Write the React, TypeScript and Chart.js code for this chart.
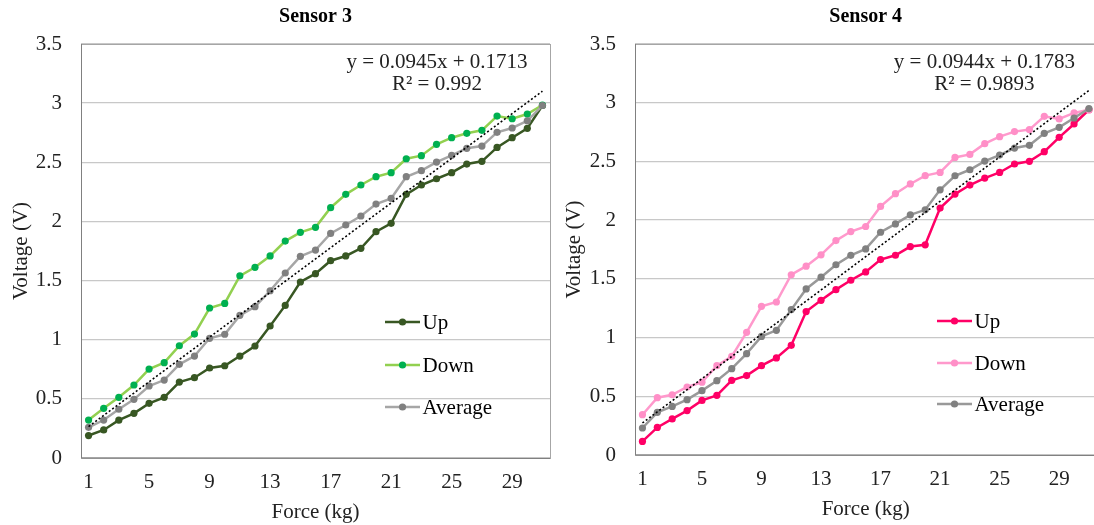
import React, { useEffect, useRef } from "react";
import { Chart, registerables } from "chart.js";

Chart.register(...registerables);

const forceLabels = Array.from({ length: 31 }, (_, i) => String(i + 1));

const s3Up = [0.19, 0.237, 0.32, 0.378, 0.462, 0.513, 0.642, 0.679, 0.761, 0.78, 0.862, 0.947, 1.116, 1.29, 1.488, 1.558, 1.668, 1.708, 1.773, 1.913, 1.984, 2.229, 2.308, 2.361, 2.412, 2.485, 2.508, 2.626, 2.708, 2.787, 2.98];
const s3Down = [0.321, 0.42, 0.513, 0.617, 0.752, 0.806, 0.949, 1.048, 1.268, 1.307, 1.54, 1.612, 1.708, 1.834, 1.908, 1.95, 2.116, 2.229, 2.308, 2.378, 2.412, 2.53, 2.556, 2.652, 2.708, 2.745, 2.77, 2.891, 2.868, 2.908, 2.984];
const s3Avg = [0.259, 0.321, 0.412, 0.496, 0.609, 0.659, 0.792, 0.862, 1.012, 1.046, 1.206, 1.279, 1.414, 1.564, 1.705, 1.758, 1.899, 1.97, 2.046, 2.147, 2.195, 2.378, 2.429, 2.502, 2.559, 2.618, 2.637, 2.753, 2.79, 2.851, 2.98];
const s3Slope = 0.0945;
const s3Intercept = 0.1713;
const s3Eq = "y = 0.0945x + 0.1713";
const s3R2 = "R\u00B2 = 0.992";

const s4Up = [0.116, 0.235, 0.307, 0.378, 0.465, 0.508, 0.636, 0.676, 0.761, 0.827, 0.934, 1.221, 1.317, 1.408, 1.488, 1.559, 1.664, 1.701, 1.775, 1.79, 2.103, 2.222, 2.299, 2.358, 2.406, 2.478, 2.501, 2.583, 2.705, 2.819, 2.94];
const s4Down = [0.343, 0.488, 0.513, 0.579, 0.62, 0.761, 0.84, 1.045, 1.266, 1.303, 1.535, 1.608, 1.705, 1.826, 1.903, 1.946, 2.117, 2.225, 2.308, 2.379, 2.406, 2.534, 2.56, 2.651, 2.711, 2.754, 2.771, 2.884, 2.862, 2.913, 2.94];
const s4Avg = [0.23, 0.363, 0.414, 0.471, 0.548, 0.633, 0.735, 0.863, 1.01, 1.062, 1.238, 1.414, 1.514, 1.62, 1.7, 1.755, 1.897, 1.968, 2.045, 2.088, 2.258, 2.378, 2.429, 2.503, 2.554, 2.614, 2.637, 2.739, 2.79, 2.87, 2.95];
const s4Slope = 0.0944;
const s4Intercept = 0.1783;
const s4Eq = "y = 0.0944x + 0.1783";
const s4R2 = "R\u00B2 = 0.9893";

const seriesNames = ["Up", "Down", "Average"];

const FONT = "'Liberation Serif', 'Times New Roman', serif";

type PanelCfg = {
  title: string;
  up: number[];
  down: number[];
  avg: number[];
  slope: number;
  intercept: number;
  eq: string;
  r2: string;
  lineColors: string[];
  pointColors: string[];
  yAxisWidth: number;
  yTitlePad: number;
  xTitlePad: number;
  xAxisHeight: number;
  padRight: number;
  eqX: number; // offset from chartArea right
  legendX: number; // offset from chartArea left
  legendY: number[]; // pixel rows
};

function makeChart(canvas: HTMLCanvasElement, cfg: PanelCfg) {
  const trend = forceLabels.map((_, i) => cfg.slope * (i + 1) + cfg.intercept);
  const overlay = {
    id: "overlay",
    afterDraw(chart: any) {
      const { ctx, chartArea } = chart;
      ctx.save();
      // plot-area border
      ctx.strokeStyle = "#A6A6A6";
      ctx.lineWidth = 1;
      ctx.strokeRect(Math.round(chartArea.left) + 0.5, Math.round(chartArea.top) + 0.5, Math.round(chartArea.right - chartArea.left), Math.round(chartArea.bottom - chartArea.top));
      ctx.strokeStyle = "#808080";
      ctx.beginPath();
      ctx.moveTo(Math.round(chartArea.left) + 0.5, chartArea.top);
      ctx.lineTo(Math.round(chartArea.left) + 0.5, chartArea.bottom);
      ctx.lineTo(chartArea.right, Math.round(chartArea.bottom) + 0.5);
      ctx.stroke();
      // title
      const cx = (chartArea.left + chartArea.right) / 2;
      ctx.fillStyle = "#000";
      ctx.font = `bold 20px ${FONT}`;
      ctx.textAlign = "center";
      ctx.textBaseline = "middle";
      ctx.fillText(cfg.title, cx, 17);
      // equation
      ctx.font = `21px ${FONT}`;
      ctx.fillStyle = "#222";
      const ex = chartArea.right - cfg.eqX;
      ctx.fillText(cfg.eq, ex, 62);
      ctx.fillText(cfg.r2, ex, 84);
      // legend
      ctx.textAlign = "left";
      const lx = chartArea.left + cfg.legendX;
      seriesNames.forEach((name, i) => {
        const y = cfg.legendY[i];
        ctx.strokeStyle = cfg.lineColors[i];
        ctx.lineWidth = 2.5;
        ctx.beginPath();
        ctx.moveTo(lx, y);
        ctx.lineTo(lx + 35, y);
        ctx.stroke();
        ctx.fillStyle = cfg.pointColors[i];
        ctx.beginPath();
        ctx.arc(lx + 17.5, y, 3.6, 0, Math.PI * 2);
        ctx.fill();
        ctx.fillStyle = "#000";
        ctx.fillText(name, lx + 37.5, y + 1);
      });
      ctx.restore();
    },
  };

  const seriesData = [cfg.up, cfg.down, cfg.avg];
  const datasets: any[] = seriesData.map((d, i) => ({
    label: seriesNames[i],
    data: d,
    borderColor: cfg.lineColors[i],
    backgroundColor: cfg.pointColors[i],
    pointBackgroundColor: cfg.pointColors[i],
    pointBorderColor: cfg.pointColors[i],
    borderWidth: 2.5,
    pointRadius: 3.6,
    pointBorderWidth: 0,
    tension: 0,
    order: 3 - i,
  }));
  datasets.push({
    label: "Linear (Average)",
    data: trend,
    borderColor: "#000",
    borderWidth: 1.6,
    borderDash: [2, 2.2],
    pointRadius: 0,
    tension: 0,
    order: 0,
  });

  return new Chart(canvas, {
    type: "line",
    data: { labels: forceLabels, datasets },
    options: {
      responsive: false,
      animation: false,
      devicePixelRatio: 1,
      layout: { padding: { top: 44, right: cfg.padRight, left: 0, bottom: 0 } },
      plugins: { legend: { display: false }, title: { display: false }, tooltip: { enabled: false } },
      scales: {
        x: {
          type: "category",
          offset: true,
          grid: { display: false, drawTicks: false },
          border: { display: false },
          ticks: {
            autoSkip: false,
            maxRotation: 0,
            padding: 12,
            color: "#222",
            font: { family: FONT, size: 21 },
            callback: (_v: any, i: number) => (i % 4 === 0 ? forceLabels[i] : ""),
          },
          title: { display: true, text: "Force (kg)", color: "#222", font: { family: FONT, size: 21 }, padding: { top: 0, bottom: cfg.xTitlePad } },
          afterFit: (s: any) => { s.height = cfg.xAxisHeight; },
        },
        y: {
          min: 0,
          max: 3.5,
          grid: { color: "#C8C8C8", lineWidth: 1.3, drawTicks: false },
          border: { display: false },
          ticks: {
            stepSize: 0.5,
            padding: 19,
            color: "#222",
            font: { family: FONT, size: 21 },
            callback: (v: any) => String(Number(v)),
          },
          title: { display: true, text: "Voltage (V)", color: "#222", font: { family: FONT, size: 21 }, padding: { top: cfg.yTitlePad, bottom: 0 } },
          afterFit: (s: any) => { s.width = cfg.yAxisWidth; },
        },
      },
    },
    plugins: [overlay],
  } as any);
}

export default function App() {
  const leftRef = useRef<HTMLCanvasElement>(null);
  const rightRef = useRef<HTMLCanvasElement>(null);

  useEffect(() => {
    const c1 = makeChart(leftRef.current!, {
      title: "Sensor 3",
      up: s3Up, down: s3Down, avg: s3Avg,
      slope: s3Slope, intercept: s3Intercept, eq: s3Eq, r2: s3R2,
      lineColors: ["#385723", "#92D050", "#A6A6A6"],
      pointColors: ["#385723", "#00B050", "#808080"],
      yAxisWidth: 81, yTitlePad: 9, xTitlePad: 0, xAxisHeight: 67, padRight: 10,
      eqX: 113, legendX: 304, legendY: [322, 365, 407],
    });
    const c2 = makeChart(rightRef.current!, {
      title: "Sensor 4",
      up: s4Up, down: s4Down, avg: s4Avg,
      slope: s4Slope, intercept: s4Intercept, eq: s4Eq, r2: s4R2,
      lineColors: ["#FF0066", "#FF99CC", "#999999"],
      pointColors: ["#FF0066", "#FF8FC7", "#808080"],
      yAxisWidth: 87, yTitlePad: 14, xTitlePad: 3, xAxisHeight: 70, padRight: 0,
      eqX: 112, legendX: 302, legendY: [321, 363, 404],
    });
    return () => { c1.destroy(); c2.destroy(); };
  }, []);

  return (
    <div style={{ position: "fixed", left: 0, top: 0, width: 1094, height: 525, overflow: "hidden", background: "#fff" }}>
      <canvas ref={leftRef} width={560} height={525} style={{ position: "absolute", left: 0, top: 0, width: 560, height: 525 }} />
      <canvas ref={rightRef} width={553} height={525} style={{ position: "absolute", left: 548, top: 0, width: 553, height: 525 }} />
    </div>
  );
}
